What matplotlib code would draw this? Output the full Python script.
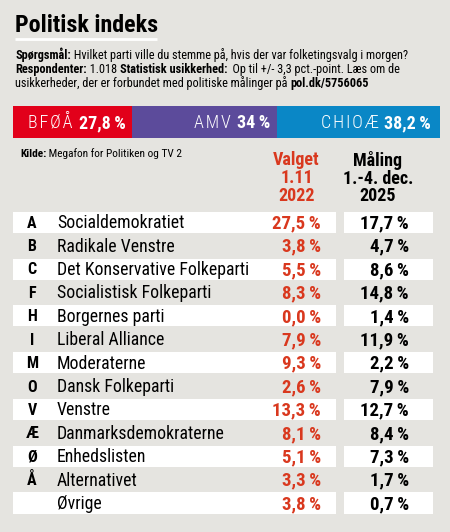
import matplotlib
matplotlib.use("Agg")
import matplotlib.pyplot as plt
from matplotlib import font_manager as fm

# font: prefer a condensed sans if one is installed
names = {f.name for f in fm.fontManager.ttflist}
FONT = "DejaVu Sans"
for cand in ["Roboto Condensed", "Liberation Sans Narrow", "Open Sans Condensed", "Noto Sans"]:
    if cand in names:
        FONT = cand
        break
plt.rcParams["font.family"] = [FONT, "DejaVu Sans"]

BG = "#e5e4e0"
RED = "#d9381e"
THIN = "\u2009"

# data
blocks = ["BFØÅ", "AMV", "CHIOÆ"]
block_share = [27.8, 34.0, 38.2]
block_labels = ["27,8" + THIN + "%", "34" + THIN + "%", "38,2" + THIN + "%"]
block_colors = ["#e2001a", "#5c4b9b", "#0a87c6"]

letters = ["A", "B", "C", "F", "H", "I", "M", "O", "V", "Æ", "Ø", "Å", ""]
parties = ["Socialdemokratiet", "Radikale Venstre", "Det Konservative Folkeparti",
           "Socialistisk Folkeparti", "Borgernes parti", "Liberal Alliance",
           "Moderaterne", "Dansk Folkeparti", "Venstre", "Danmarksdemokraterne",
           "Enhedslisten", "Alternativet", "Øvrige"]
valg_2022 = [27.5, 3.8, 5.5, 8.3, 0.0, 7.9, 9.3, 2.6, 13.3, 8.1, 5.1, 3.3, 3.8]
maaling_2025 = [17.7, 4.7, 8.6, 14.8, 1.4, 11.9, 2.2, 7.9, 12.7, 8.4, 7.3, 1.7, 0.7]


def pct(v):
    return f"{v:.1f}".replace(".", ",") + THIN + "%"


fig = plt.figure(figsize=(4.5, 5.32), dpi=100, facecolor=BG)
ax = fig.add_axes([0, 0, 1, 1])
ax.set_xlim(0, 450)
ax.set_ylim(532, 0)
ax.axis("off")
ax.set_facecolor(BG)
renderer = fig.canvas.get_renderer()


def runs(x, y, parts, size):
    # draw mixed bold/regular text pieces one after the other
    for s, w in parts:
        t = ax.text(x, y, s, fontsize=size, fontweight=w, va="baseline", ha="left")
        bb = t.get_window_extent(renderer=renderer)
        x += bb.width


# title
ax.text(15, 32, "Politisk indeks", fontsize=17.3, fontweight="bold", va="baseline")
ax.plot([15, 157], [38.5, 38.5], color="white", lw=2, solid_capstyle="butt")

runs(15, 59.5, [("Spørgsmål:", "bold"),
                (" Hvilket parti ville du stemme på, hvis der var folketingsvalg i morgen?", "normal")], 8.8)
runs(15, 73, [("Respondenter:", "bold"), (" 1.018 ", "normal"),
              ("Statistisk usikkerhed:", "bold"),
              ("  Op til +/- 3,3 pct.-point. Læs om de", "normal")], 8.8)
runs(15, 86.5, [("usikkerheder, der er forbundet med politiske målinger på ", "normal"),
                ("pol.dk/5756065", "bold")], 8.8)

# stacked bloc bar
bx = fig.add_axes([13 / 450, 1 - 138 / 532, 427 / 450, 32 / 532])
bx.set_xlim(0, sum(block_share))
bx.set_ylim(0.5, -0.5)
bx.axis("off")
left = 0
pads = [1.4, 1.6, 2.1]
for name, share, lab, col, pad in zip(blocks, block_share, block_labels, block_colors, pads):
    bx.barh(0, share, left=left, height=1, color=col, edgecolor="none")
    end = left + share - pad
    t = bx.text(end, 0.2, lab, ha="right", va="baseline", color="white",
                fontsize=13, fontweight="bold")
    w = t.get_window_extent(renderer=renderer).width
    bx.annotate("\u200a".join(name), xy=(end, 0.2), xytext=(-w - 6, 0),
                textcoords="offset pixels", ha="right", va="baseline",
                color="white", fontsize=13, fontweight="light")
    left += share

# source and column headers
runs(20, 157, [("Kilde:", "bold"), (" Megafon for Politiken og TV 2", "normal")], 8.2)
ax.text(296.5, 178, "Valget\n1.11\n2022", ha="center", va="center", color=RED,
        fontsize=13, fontweight="bold", linespacing=0.98)
ax.text(378, 178, "Måling\n1.-4. dec.\n2025", ha="center", va="center",
        color="black", fontsize=13, fontweight="bold", linespacing=0.98)

# table rows
row0, pitch = 222.2, 23.4
for i, (l, p, v1, v2) in enumerate(zip(letters, parties, valg_2022, maaling_2025)):
    y = row0 + i * pitch
    if i % 2 == 0:
        ax.barh(y, 323, left=13, height=21, color="white", edgecolor="none")
        ax.barh(y, 89, left=344, height=21, color="white", edgecolor="none")
    ax.text(32, y + 5.5, l, ha="center", va="baseline", fontsize=11.5, fontweight="bold")
    ax.text(57, y + 6, p, ha="left", va="baseline", fontsize=12.8)
    ax.text(321, y + 6.3, pct(v1), ha="right", va="baseline", color=RED,
            fontsize=13.5, fontweight="bold")
    ax.text(409, y + 6.3, pct(v2), ha="right", va="baseline", color="black",
            fontsize=13.5, fontweight="bold")

fig.savefig("out.png", dpi=100, facecolor=BG)
